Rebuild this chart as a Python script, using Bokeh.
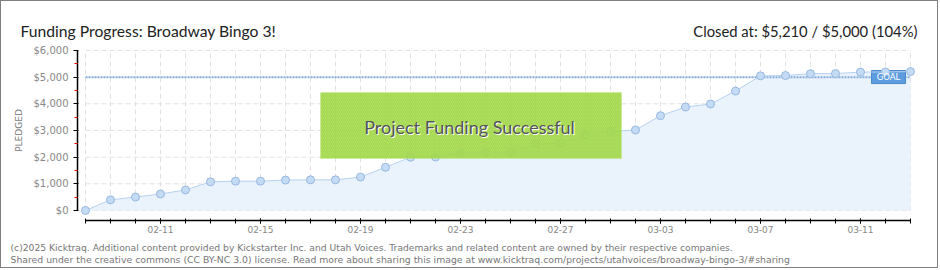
from bokeh.plotting import figure
from bokeh.models import FixedTicker, NumeralTickFormatter, Label, BoxAnnotation, Range1d
from bokeh.embed import file_html
from bokeh.resources import INLINE

# ---- data ----
dates = ["02-08", "02-09", "02-10", "02-11", "02-12", "02-13", "02-14", "02-15",
         "02-16", "02-17", "02-18", "02-19", "02-20", "02-21", "02-22", "02-23",
         "02-24", "02-25", "02-26", "02-27", "02-28", "03-01", "03-02", "03-03",
         "03-04", "03-05", "03-06", "03-07", "03-08", "03-09", "03-10", "03-11",
         "03-12", "03-13"]
pledged = [0, 400, 505, 620, 770, 1075, 1100, 1100, 1140, 1150, 1150, 1255,
           1620, 2000, 2005, 2160, 2165, 2200, 2495, 2530, 2840, 2960, 3020,
           3555, 3880, 3995, 4480, 5050, 5060, 5130, 5135, 5190, 5195, 5210]
goal = 5000
x_tick_labels = ["02-11", "02-15", "02-19", "02-23", "02-27", "03-03", "03-07", "03-11"]
y_ticks = [0, 1000, 2000, 3000, 4000, 5000, 6000]
y_minor_ticks = [500, 1500, 2500, 3500, 4500, 5500]

title_text = "Funding Progress: Broadway Bingo 3!"
closed_text = "Closed at: $5,210 / $5,000 (104%)"
banner_text = "Project Funding Successful"
footer1 = ("(c)2025 Kicktraq. Additional content provided by Kickstarter Inc. and Utah Voices. "
           "Trademarks and related content are owned by their respective companies.")
footer2 = ("Shared under the creative commons (CC BY-NC 3.0) license. Read more about sharing "
           "this image at www.kicktraq.com/projects/utahvoices/broadway-bingo-3/#sharing")

idx = list(range(len(dates)))
n = len(dates)

TFONT = "Lato"
SFONT = "DejaVu Sans"

# ---- layout constants (page pixels) ----
W, H = 938, 268          # canvas (a 1px CSS border makes it 940x270)
X0_PX = 85               # page x of first day
DAY_PX = 25.0            # pixels per day
Y0_PX = 210              # page y of $0
PX_PER_DOLLAR = 26.667 / 1000.0


def xd(px):  # page x -> data x
    return (px - X0_PX) / DAY_PX


def yd(py):  # page y -> data y
    return (Y0_PX - py) / PX_PER_DOLLAR


p = figure(width=W, height=H, output_backend="svg", toolbar_location=None,
           x_range=Range1d(xd(1), xd(1 + W)), y_range=Range1d(yd(1 + H), yd(1)),
           min_border=0)
p.styles = {"border": "1px solid #808080"}
p.outline_line_color = None
p.background_fill_color = "white"
p.border_fill_color = "white"
p.xgrid.visible = False
p.ygrid.visible = False

# grid (dashed)
p.segment(x0=idx, y0=[y_ticks[0]] * n, x1=idx, y1=[y_ticks[-1]] * n,
          line_color="#e2e2e2", line_width=1, line_dash="5 3")
p.segment(x0=[idx[0]] * len(y_ticks), y0=y_ticks, x1=[idx[-1]] * len(y_ticks), y1=y_ticks,
          line_color="#e2e2e2", line_width=1, line_dash="5 3")

# area
p.varea(x=idx, y1=[0] * n, y2=pledged, fill_color="#eaf2fc")

# goal line
p.segment(x0=[idx[0]], y0=[goal], x1=[idx[-1]], y1=[goal],
          line_color="#88aedb", line_width=2, line_dash="2 1")

# goal badge
p.quad(left=[idx[-1] - 1.56], right=[idx[-1] - 0.2], bottom=[goal - 240], top=[goal + 250],
       fill_color="#5d9cdd", line_color="#4a88cc", line_width=1)
p.add_layout(Label(x=idx[-1] - 0.88, y=goal, text="GOAL", text_align="center",
                   text_baseline="middle", text_color="white", text_font=SFONT,
                   text_font_size="8.5px"))

p.line(idx, pledged, line_color="#b6d1f0", line_width=1)
p.scatter(idx, pledged, size=8, fill_color="#c4dbf5", line_color="#98b8de", line_width=1)

# success banner
banner = BoxAnnotation(left=xd(320), right=xd(621), bottom=yd(158), top=yd(92),
                       fill_color="#a6dc4c", fill_alpha=0.9,
                       line_color="#bfe888", line_width=1,
                       hatch_pattern="right_diagonal_line", hatch_color="#93c93e",
                       hatch_alpha=0.35, hatch_scale=4, hatch_weight=1)
p.add_layout(banner)
p.add_layout(Label(x=xd(469), y=yd(126), x_offset=1, y_offset=-1, text=banner_text,
                   text_align="center", text_baseline="middle", text_color="white",
                   text_font=TFONT, text_font_size="18px"))
p.add_layout(Label(x=xd(469), y=yd(126), text=banner_text,
                   text_align="center", text_baseline="middle", text_color="#555555",
                   text_font=TFONT, text_font_size="18px"))

# axes, drawn at fixed data locations inside the full-canvas frame
xa = p.xaxis[0]
xa.fixed_location = yd(220)
xa.ticker = FixedTicker(ticks=[dates.index(l) for l in x_tick_labels], minor_ticks=idx)
xa.major_label_overrides = {dates.index(l): l for l in x_tick_labels}
xa.bounds = (idx[0], idx[-1])
xa.axis_line_color = "black"
xa.axis_line_width = 1.5
xa.major_tick_line_color = "black"
xa.minor_tick_line_color = "black"
xa.major_tick_in = 2
xa.major_tick_out = 3
xa.minor_tick_in = 2
xa.minor_tick_out = 3
xa.major_label_standoff = 2
xa.major_label_text_font = SFONT
xa.major_label_text_font_size = "9px"
xa.major_label_text_color = "#888888"

ya = p.yaxis[0]
ya.fixed_location = xd(77)
ya.ticker = FixedTicker(ticks=y_ticks, minor_ticks=y_minor_ticks)
ya.formatter = NumeralTickFormatter(format="$0,0")
ya.bounds = (y_ticks[0], y_ticks[-1])
ya.axis_line_color = "black"
ya.axis_line_width = 1.5
ya.major_tick_line_color = "black"
ya.minor_tick_line_color = "red"
ya.major_tick_in = 1
ya.major_tick_out = 4
ya.minor_tick_in = 0
ya.minor_tick_out = 3
ya.major_label_standoff = 5
ya.major_label_text_font = SFONT
ya.major_label_text_font_size = "10px"
ya.major_label_text_color = "#888888"
ya.axis_label = "PLEDGED"
ya.axis_label_text_font = SFONT
ya.axis_label_text_font_size = "9px"
ya.axis_label_text_font_style = "normal"
ya.axis_label_text_color = "#777777"
ya.axis_label_standoff = 7

# header and footer
p.add_layout(Label(x=xd(20), y=yd(30), text=title_text, text_align="left",
                   text_baseline="alphabetic", text_color="#222222",
                   text_font=TFONT, text_font_size="15.7px"))
p.add_layout(Label(x=xd(917), y=yd(30), text=closed_text, text_align="right",
                   text_baseline="alphabetic", text_color="#222222",
                   text_font=TFONT, text_font_size="14.8px"))
p.add_layout(Label(x=xd(10), y=yd(247), text=footer1, text_align="left",
                   text_baseline="alphabetic", text_color="#777777",
                   text_font=SFONT, text_font_size="9.2px"))
p.add_layout(Label(x=xd(10), y=yd(259), text=footer2, text_align="left",
                   text_baseline="alphabetic", text_color="#777777",
                   text_font=SFONT, text_font_size="9.3px"))

open("out.html", "w").write(file_html(p, INLINE))
